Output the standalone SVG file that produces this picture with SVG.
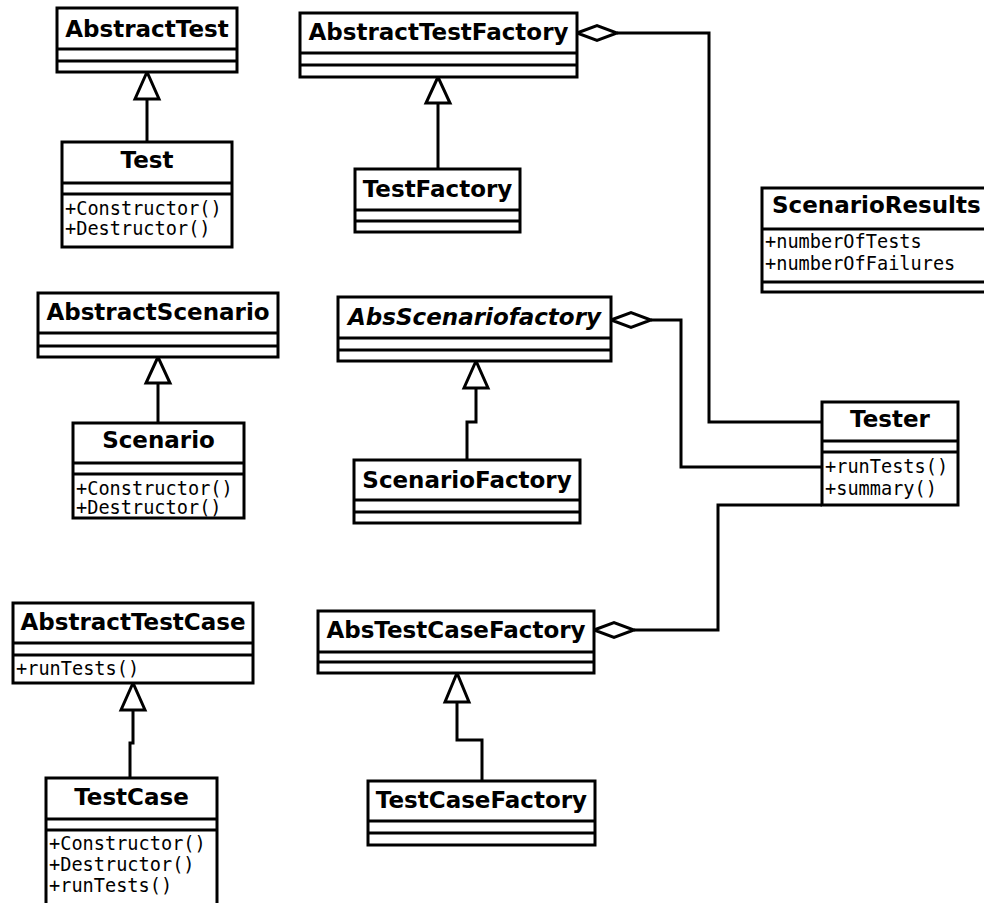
<svg xmlns="http://www.w3.org/2000/svg" width="984" height="903" viewBox="0 0 984 903">
<style>
.box{fill:#fff;stroke:#000;stroke-width:3}
.sep{stroke:#000;stroke-width:3}
.t{font-family:"DejaVu Sans",sans-serif;font-weight:bold;font-size:23px;text-anchor:middle;fill:#000}
.ti{font-style:italic}
.m{font-family:"DejaVu Sans Mono",monospace;font-size:18.6px;fill:#000}
.ln{fill:none;stroke:#000;stroke-width:3}
.tri{fill:#fff;stroke:#000;stroke-width:3;stroke-linejoin:miter}
.dia{fill:#fff;stroke:#000;stroke-width:3}
</style>
<rect width="984" height="903" fill="#fff"/>
<g id="connectors">
<path class="ln" d="M147,142 V99"/><polygon class="tri" points="147,72 135,99 159,99"/>
<path class="ln" d="M438,169 V103"/><polygon class="tri" points="438,77 426,103 450,103"/>
<path class="ln" d="M158,423 V383"/><polygon class="tri" points="158,357 146,383 170,383"/>
<path class="ln" d="M467,460 V422 H476 V388"/><polygon class="tri" points="476,361 464,388 488,388"/>
<path class="ln" d="M130,778 V743 H133 V710"/><polygon class="tri" points="133,683 121,710 145,710"/>
<path class="ln" d="M482,781 V740 H457 V702"/><polygon class="tri" points="457,673 445,702 469,702"/>
<path class="ln" d="M617,33 H709 V422 H822"/><polygon class="dia" points="577,33 597,25.5 617,33 597,40.5"/>
<path class="ln" d="M651,320 H681 V467 H822"/><polygon class="dia" points="611,320 631,312.5 651,320 631,327.5"/>
<path class="ln" d="M634,630 H718 V505 H822"/><polygon class="dia" points="594,630 614,622.5 634,630 614,637.5"/>
</g>
<g id="AbstractTest">
<rect class="box" x="57" y="8" width="180" height="64"/>
<line class="sep" x1="57" y1="49" x2="237" y2="49"/><line class="sep" x1="57" y1="61" x2="237" y2="61"/>
<text class="t" x="147" y="37">AbstractTest</text>
</g>
<g id="Test">
<rect class="box" x="62" y="142" width="170" height="105"/>
<line class="sep" x1="62" y1="183" x2="232" y2="183"/><line class="sep" x1="62" y1="194" x2="232" y2="194"/>
<text class="t" x="147" y="168">Test</text>
<text class="m" x="65" y="215">+Constructor()</text>
<text class="m" x="65" y="235">+Destructor()</text>
</g>
<g id="AbstractTestFactory">
<rect class="box" x="300" y="13" width="277" height="64"/>
<line class="sep" x1="300" y1="53" x2="577" y2="53"/><line class="sep" x1="300" y1="65" x2="577" y2="65"/>
<text class="t" x="438.5" y="40">AbstractTestFactory</text>
</g>
<g id="TestFactory">
<rect class="box" x="355" y="169" width="165" height="63"/>
<line class="sep" x1="355" y1="210" x2="520" y2="210"/><line class="sep" x1="355" y1="221" x2="520" y2="221"/>
<text class="t" x="437.5" y="197">TestFactory</text>
</g>
<g id="ScenarioResults">
<rect class="box" x="762" y="188" width="240" height="104"/>
<line class="sep" x1="762" y1="229" x2="1002" y2="229"/><line class="sep" x1="762" y1="282" x2="1002" y2="282"/>
<text class="t" x="772" y="213" style="text-anchor:start">ScenarioResults</text>
<text class="m" x="765" y="248">+numberOfTests</text>
<text class="m" x="765" y="270">+numberOfFailures</text>
</g>
<g id="AbstractScenario">
<rect class="box" x="38" y="293" width="240" height="64"/>
<line class="sep" x1="38" y1="333" x2="278" y2="333"/><line class="sep" x1="38" y1="346" x2="278" y2="346"/>
<text class="t" x="158" y="320">AbstractScenario</text>
</g>
<g id="Scenario">
<rect class="box" x="73" y="423" width="171" height="95"/>
<line class="sep" x1="73" y1="463" x2="244" y2="463"/><line class="sep" x1="73" y1="474" x2="244" y2="474"/>
<text class="t" x="158.5" y="448">Scenario</text>
<text class="m" x="76" y="495">+Constructor()</text>
<text class="m" x="76" y="514">+Destructor()</text>
</g>
<g id="AbsScenariofactory">
<rect class="box" x="338" y="297" width="273" height="64"/>
<line class="sep" x1="338" y1="338" x2="611" y2="338"/><line class="sep" x1="338" y1="350" x2="611" y2="350"/>
<text class="t ti" x="474.5" y="325">AbsScenariofactory</text>
</g>
<g id="ScenarioFactory">
<rect class="box" x="354" y="460" width="226" height="63"/>
<line class="sep" x1="354" y1="500" x2="580" y2="500"/><line class="sep" x1="354" y1="512" x2="580" y2="512"/>
<text class="t" x="467" y="488">ScenarioFactory</text>
</g>
<g id="Tester">
<rect class="box" x="822" y="402" width="136" height="103"/>
<line class="sep" x1="822" y1="441" x2="958" y2="441"/><line class="sep" x1="822" y1="452" x2="958" y2="452"/>
<text class="t" x="890" y="427">Tester</text>
<text class="m" x="825" y="473">+runTests()</text>
<text class="m" x="825" y="495">+summary()</text>
</g>
<g id="AbstractTestCase">
<rect class="box" x="13" y="603" width="240" height="80"/>
<line class="sep" x1="13" y1="643" x2="253" y2="643"/><line class="sep" x1="13" y1="655" x2="253" y2="655"/>
<text class="t" x="133" y="630">AbstractTestCase</text>
<text class="m" x="16" y="675">+runTests()</text>
</g>
<g id="TestCase">
<rect class="box" x="46" y="778" width="171" height="140"/>
<line class="sep" x1="46" y1="819" x2="217" y2="819"/><line class="sep" x1="46" y1="830" x2="217" y2="830"/>
<text class="t" x="131.5" y="805">TestCase</text>
<text class="m" x="49" y="850">+Constructor()</text>
<text class="m" x="49" y="871">+Destructor()</text>
<text class="m" x="49" y="892">+runTests()</text>
</g>
<g id="AbsTestCaseFactory">
<rect class="box" x="318" y="611" width="276" height="62"/>
<line class="sep" x1="318" y1="652" x2="594" y2="652"/><line class="sep" x1="318" y1="662" x2="594" y2="662"/>
<text class="t" x="456" y="638">AbsTestCaseFactory</text>
</g>
<g id="TestCaseFactory">
<rect class="box" x="368" y="781" width="227" height="64"/>
<line class="sep" x1="368" y1="821" x2="595" y2="821"/><line class="sep" x1="368" y1="833" x2="595" y2="833"/>
<text class="t" x="481.5" y="808">TestCaseFactory</text>
</g>
</svg>
